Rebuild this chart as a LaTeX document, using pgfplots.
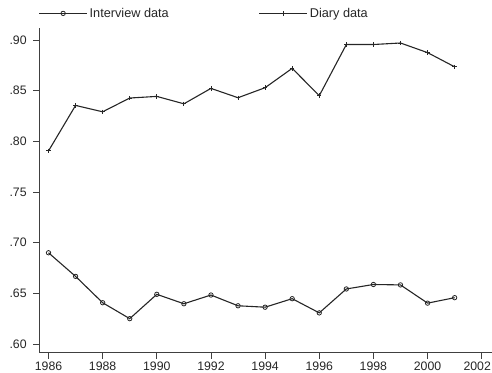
\documentclass[border=0pt]{standalone}
\usepackage{pgfplots}
\pgfplotsset{compat=1.18}
\usepackage{fontspec}
\setmainfont{Liberation Sans}
\begin{document}
\begin{tikzpicture}
\useasboundingbox (0,0) rectangle (492pt,372pt);
\begin{axis}[
  at={(39.3pt,19.3pt)}, anchor=south west,
  scale only axis, width=452.7pt, height=324.7pt,
  xmin=1985.66, xmax=2002.38, ymin=0.5914, ymax=0.9118,
  axis x line*=bottom, axis y line*=left,
  axis line style={-, line width=0.9pt, black!75},
  xtick={1986,1988,...,2000},
  xticklabels={1986,1988,1990,1992,1994,1996,1998,2000},
  extra x ticks={2002},
  extra x tick labels={2002},
  extra x tick style={xticklabel style={xshift=-4.5pt}},
  ytick={0.60,0.65,0.70,0.75,0.80,0.85,0.90},
  yticklabels={.60,.65,.70,.75,.80,.85,.90},
  tick align=outside,
  major tick length=6pt,
  tick style={line width=0.9pt, black!75},
  /pgf/number format/assume math mode=true,
  ticklabel style={font=\fontsize{12.3}{14}\selectfont, text=black!85, inner sep=1pt},
  xticklabel style={yshift=-2pt},
  yticklabel style={xshift=-5.5pt},
  legend columns=2,
  legend style={draw=none, fill=none, at={(-0.002,1.045)}, anchor=west, inner sep=0pt,
    font=\fontsize{12.7}{14}\selectfont, text=black!85,
    /tikz/every even column/.append style={column sep=88pt}},
  legend image code/.code={\draw[mark repeat=2, mark phase=2] plot coordinates {(0pt,0pt)(24pt,0pt)(48pt,0pt)};},
]
\addplot[black!85, line width=1.1pt, mark=o, mark size=2.2pt, mark options={line width=0.8pt}] coordinates {
(1986,0.690) (1987,0.6667) (1988,0.6407) (1989,0.625) (1990,0.649) (1991,0.6397)
(1992,0.6483) (1993,0.6377) (1994,0.6363) (1995,0.6447) (1996,0.6307) (1997,0.6543)
(1998,0.6587) (1999,0.6583) (2000,0.6403) (2001,0.6457)};
\addlegendentry{Interview data}
\addplot[black!85, line width=1.1pt, mark=+, mark size=2.2pt, mark options={line width=0.9pt}] coordinates {
(1986,0.7905) (1987,0.8354) (1988,0.8291) (1989,0.8427) (1990,0.8443) (1991,0.8370)
(1992,0.8522) (1993,0.8430) (1994,0.8529) (1995,0.8720) (1996,0.8450) (1997,0.8955)
(1998,0.8955) (1999,0.8970) (2000,0.8875) (2001,0.8735)};
\addlegendentry{Diary data}
\end{axis}
\end{tikzpicture}
\end{document}
